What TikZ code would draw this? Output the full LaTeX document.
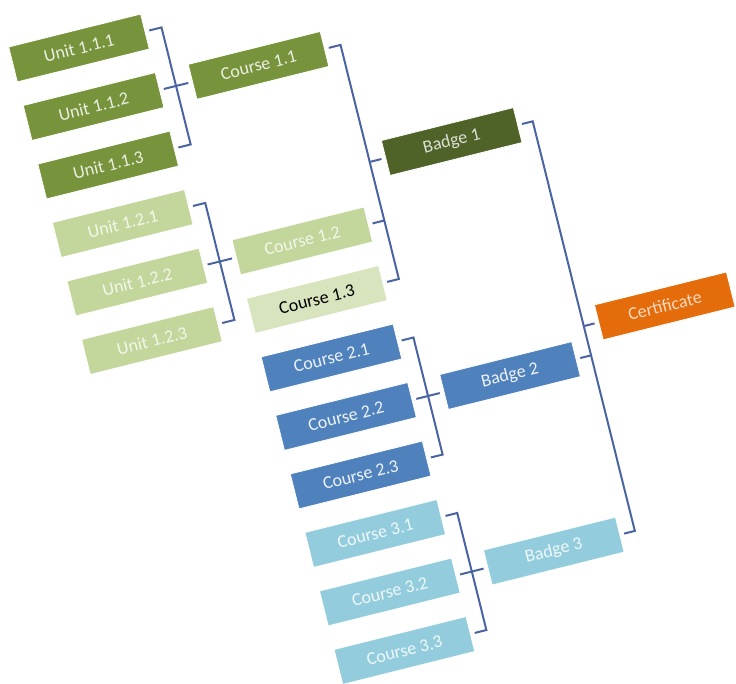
\documentclass[tikz,border=0pt]{standalone}
\usepackage{fontspec}
\setmainfont{Carlito}
\usetikzlibrary{calc}

\definecolor{olivebox}{HTML}{77933C}
\definecolor{darkolive}{HTML}{4F6228}
\definecolor{lightgreen}{HTML}{C3D69B}
\definecolor{palegreen}{HTML}{D7E4BD}
\definecolor{bluebox}{HTML}{4F81BD}
\definecolor{lightblue}{HTML}{93CDDD}
\definecolor{orangebox}{HTML}{E46C0A}
\definecolor{linkcol}{HTML}{4A64A2}

\begin{document}
\begin{tikzpicture}[x=1pt, y=1pt,
    box/.style={rectangle, minimum width=136pt, minimum height=36pt,
      inner sep=2pt, draw=white, line width=0.8pt,
      font=\fontsize{18}{21}\selectfont},
    unitA/.style={box, fill=olivebox, text=white!85!olivebox},
    unitB/.style={box, fill=lightgreen, text=white!80!lightgreen},
    lastC/.style={box, fill=palegreen, text=black},
    blueC/.style={box, fill=bluebox, text=white!90!bluebox},
    skyC/.style={box, fill=lightblue, text=white!85!lightblue},
    badgeA/.style={box, fill=darkolive, text=white!80!darkolive},
    certbox/.style={box, fill=orangebox, text=white!75!orangebox},
    bracket/.style={draw=linkcol, line width=2pt}]

  \useasboundingbox (-79,48) rectangle (657,-635);

  \begin{scope}[transform canvas={rotate=14}]
    % units
    \node[unitA] (u111) at (0,0) {Unit 1.1.1};
    \node[unitA] (u112) at (0,-60.3) {Unit 1.1.2};
    \node[unitA] (u113) at (0,-120.6) {Unit 1.1.3};
    \node[unitB] (u121) at (0,-180.9) {Unit 1.2.1};
    \node[unitB] (u122) at (0,-241.2) {Unit 1.2.2};
    \node[unitB] (u123) at (0,-301.5) {Unit 1.2.3};
    % courses
    \node[unitA] (c11) at (170,-60.3) {Course 1.1};
    \node[unitB] (c12) at (170,-241.2) {Course 1.2};
    \node[lastC] (c13) at (170,-301.5) {Course 1.3};
    \node[blueC] (c21) at (170,-361.8) {Course 2.1};
    \node[blueC] (c22) at (170,-422.1) {Course 2.2};
    \node[blueC] (c23) at (170,-482.4) {Course 2.3};
    \node[skyC] (c31) at (170,-542.7) {Course 3.1};
    \node[skyC] (c32) at (170,-603) {Course 3.2};
    \node[skyC] (c33) at (170,-663.3) {Course 3.3};
    % badges
    \node[badgeA] (b1) at (339,-180.9) {Badge 1};
    \node[blueC] (b2) at (339,-422.1) {Badge 2};
    \node[skyC] (b3) at (339,-603) {Badge 3};
    % certificate
    \node[certbox] (cert) at (506,-391.95) {Certificate};

    % brackets: first/middle/last child, parent
    \foreach \a/\b/\c/\p in {u111/u112/u113/c11, u121/u122/u123/c12,
        c11/c12/c13/b1, c21/c22/c23/b2, c31/c32/c33/b3, b1/b2/b3/cert} {
      \coordinate (sp) at ($(\a.east)!0.5!(\p.west)$);
      \draw[bracket] ([xshift=4pt]\a.east) -- (\a.east -| sp)
        -- (\c.east -| sp) -- ([xshift=4pt]\c.east);
      \draw[bracket] ([xshift=4pt]\b.east) -- (\b.east -| sp);
      \draw[bracket] (\p.west -| sp) -- ([xshift=-4pt]\p.west);
    }
  \end{scope}
\end{tikzpicture}
\end{document}
